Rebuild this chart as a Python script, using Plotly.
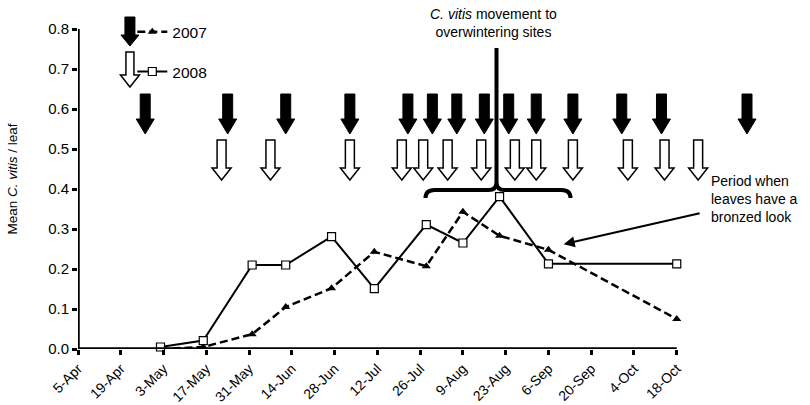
import plotly.graph_objects as go

# ---------------- data ----------------
sample_dates = ["2008-05-02", "2008-05-16", "2008-06-01", "2008-06-12", "2008-06-27",
                "2008-07-11", "2008-07-28", "2008-08-09", "2008-08-21", "2008-09-06",
                "2008-10-18"]
vals_2007 = [0.0, 0.005, 0.037, 0.105, 0.152, 0.243, 0.207, 0.343, 0.283, 0.248, 0.075]
vals_2008 = [0.005, 0.021, 0.21, 0.21, 0.281, 0.151, 0.311, 0.265, 0.381, 0.213, 0.213]

arrow_dates_2007 = ["2008-04-27", "2008-05-24", "2008-06-12", "2008-07-03", "2008-07-22",
                    "2008-07-30", "2008-08-07", "2008-08-16", "2008-08-24", "2008-09-02",
                    "2008-09-14", "2008-09-30", "2008-10-13", "2008-11-10"]
arrow_dates_2008 = ["2008-05-22", "2008-06-07", "2008-07-03", "2008-07-20", "2008-07-27",
                    "2008-08-04", "2008-08-15", "2008-08-26", "2008-09-02", "2008-09-14",
                    "2008-10-02", "2008-10-14", "2008-10-25"]

tick_dates = ["2008-04-05", "2008-04-19", "2008-05-03", "2008-05-17", "2008-05-31",
              "2008-06-14", "2008-06-28", "2008-07-12", "2008-07-26", "2008-08-09",
              "2008-08-23", "2008-09-06", "2008-09-20", "2008-10-04", "2008-10-18"]
tick_labels = ["5-Apr", "19-Apr", "3-May", "17-May", "31-May", "14-Jun", "28-Jun",
               "12-Jul", "26-Jul", "9-Aug", "23-Aug", "6-Sep", "20-Sep", "4-Oct", "18-Oct"]
y_ticks = [0.0, 0.1, 0.2, 0.3, 0.4, 0.5, 0.6, 0.7, 0.8]

movement_center = "2008-08-20"
bronze_point = ("2008-09-11", 0.262)
bronze_text_pos = ("2008-10-26", 0.34)
legend_arrow_date = "2008-04-22"

FONT = "Arial, Liberation Sans, sans-serif"

fig = go.Figure()
fig.add_trace(go.Scatter(
    x=sample_dates, y=vals_2007, name="2007", mode="lines+markers",
    line=dict(color="black", width=2.5, dash="8px,4px"),
    marker=dict(symbol="triangle-up", size=8, color="black"),
    legend="legend", cliponaxis=False))
fig.add_trace(go.Scatter(
    x=sample_dates, y=vals_2008, name="2008", mode="lines+markers",
    line=dict(color="black", width=2),
    marker=dict(symbol="square", size=8, color="white", line=dict(color="black", width=1.2)),
    legend="legend2", cliponaxis=False))

shapes = []
BLACK_PATH = "M 0,0 L -9,15 L -5,15 L -5,40 L 5,40 L 5,15 L 9,15 Z"
WHITE_PATH = "M 0,0 L -9.5,12 L -4.5,12 L -4.5,40 L 4.5,40 L 4.5,12 L 9.5,12 Z"
for d in arrow_dates_2007:
    shapes.append(dict(type="path", xref="x", yref="y", xsizemode="pixel", ysizemode="pixel",
                       xanchor=d, yanchor=0.5375, path=BLACK_PATH,
                       fillcolor="black", line=dict(color="black", width=1)))
for d in arrow_dates_2008:
    shapes.append(dict(type="path", xref="x", yref="y", xsizemode="pixel", ysizemode="pixel",
                       xanchor=d, yanchor=0.4225, path=WHITE_PATH,
                       fillcolor="white", line=dict(color="black", width=1.5)))
# legend arrows
shapes.append(dict(type="path", xref="x", yref="y", xsizemode="pixel", ysizemode="pixel",
                   xanchor=legend_arrow_date, yanchor=0.7575,
                   path="M 0,0 L -9,11 L -5,11 L -5,29 L 5,29 L 5,11 L 9,11 Z",
                   fillcolor="black", line=dict(color="black", width=1)))
shapes.append(dict(type="path", xref="x", yref="y", xsizemode="pixel", ysizemode="pixel",
                   xanchor=legend_arrow_date, yanchor=0.655,
                   path="M 0,0 L -9.5,12 L -4,12 L -4,35 L 4,35 L 4,12 L 9.5,12 Z",
                   fillcolor="white", line=dict(color="black", width=1.5)))
# brace for C. vitis movement
shapes.append(dict(type="path", xref="x", yref="y", xsizemode="pixel", ysizemode="pixel",
                   xanchor=movement_center, yanchor=0.3975,
                   path=("M 0,142 L 0,8 Q 0,0 -8,0 L -62,0 Q -71,0 -71,-8 "
                         "M 0,8 Q 0,0 8,0 L 65,0 Q 74,0 74,-8"),
                   fillcolor="rgba(0,0,0,0)", line=dict(color="black", width=4)))
# axis lines
shapes.append(dict(type="line", xref="x", yref="y", x0=tick_dates[0], x1=tick_dates[-1],
                   y0=0, y1=0, line=dict(color="black", width=3.5)))
shapes.append(dict(type="line", xref="x", yref="y", x0=tick_dates[0], x1=tick_dates[0],
                   y0=0, y1=y_ticks[-1], line=dict(color="black", width=3.5)))

annotations = [
    dict(x=movement_center, y=1, xref="x", yref="paper", yanchor="top", yshift=5, xshift=-3,
         text="<i>C. vitis</i> movement to<br>overwintering sites", showarrow=False,
         font=dict(size=14, color="black", family=FONT), align="center"),
    dict(x=bronze_text_pos[0], y=bronze_text_pos[1], xref="x", yref="y",
         text="Period when<br>leaves have a<br>bronzed look", showarrow=False,
         xanchor="left", yanchor="middle", xshift=8, yshift=14, align="left",
         font=dict(size=14, color="black", family=FONT)),
    dict(x=bronze_point[0], y=bronze_point[1], xref="x", yref="y",
         ax=bronze_text_pos[0], ay=bronze_text_pos[1], axref="x", ayref="y",
         text="", showarrow=True, arrowhead=2, arrowsize=1.1, arrowwidth=2, arrowcolor="black"),
]

fig.update_layout(
    width=810, height=405,
    margin=dict(l=78, r=8, t=9, b=56),
    paper_bgcolor="white", plot_bgcolor="white",
    font=dict(family=FONT, color="black", size=13),
    shapes=shapes, annotations=annotations,
    legend=dict(x=0.075, y=0.932, xanchor="left", yanchor="middle",
                bgcolor="rgba(0,0,0,0)", font=dict(size=15.5), itemwidth=30),
    legend2=dict(x=0.075, y=0.815, xanchor="left", yanchor="middle",
                 bgcolor="rgba(0,0,0,0)", font=dict(size=15.5), itemwidth=30),
    showlegend=True,
)
fig.update_xaxes(type="date", range=["2008-04-05", "2008-11-28"], showgrid=False,
                 zeroline=False, showline=False, tickmode="array", tickvals=tick_dates,
                 ticktext=tick_labels, tickangle=-45, ticks="outside", ticklen=5,
                 tickwidth=3, tickcolor="black", tickfont=dict(size=14), automargin=False)
fig.update_yaxes(range=[0, 0.85], showgrid=False, zeroline=False, showline=False,
                 tickmode="array", tickvals=y_ticks, ticktext=[f"{v:.1f}" for v in y_ticks],
                 ticks="outside", ticklen=5, tickwidth=3, tickcolor="black",
                 tickfont=dict(size=15), automargin=False,
                 title=dict(text="Mean <i>C. vitis</i> / leaf", font=dict(size=13.5), standoff=27))

fig.write_html("out.html", config={"displayModeBar": False},
               post_script="document.body.style.margin='0';document.body.style.padding='0';")
